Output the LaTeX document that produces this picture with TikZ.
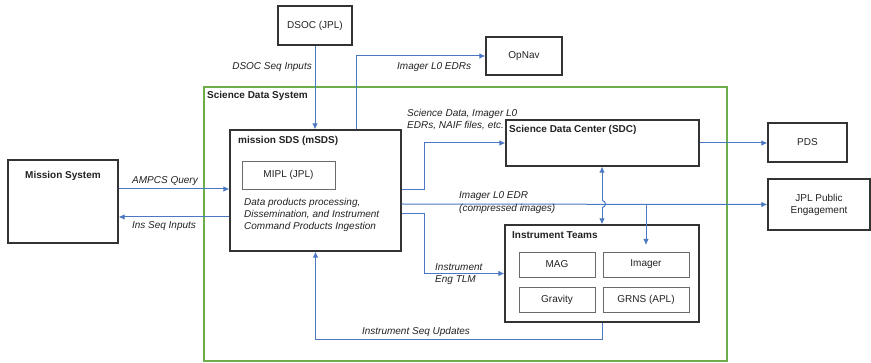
\documentclass[tikz,border=0pt]{standalone}
\usepackage{fontspec}
\setmainfont{Liberation Sans}
\usetikzlibrary{arrows.meta}
\definecolor{flowblue}{HTML}{4A78C2}
\definecolor{sdsgreen}{HTML}{6DAE4B}
\definecolor{boxline}{HTML}{333333}
\definecolor{inline}{HTML}{6A6A6A}
\definecolor{txt}{HTML}{222222}
\begin{document}
\begin{tikzpicture}[x=1pt,y=-1pt,
  font=\fontsize{10}{12}\selectfont, text=txt,
  bigbox/.style={draw=boxline, line width=1.2pt, inner sep=0pt},
  smallbox/.style={draw=inline, line width=0.8pt, inner sep=0pt},
  title/.style={font=\fontsize{10}{12}\selectfont\bfseries, anchor=west, inner sep=0pt},
  lbl/.style={font=\fontsize{10}{11.8}\selectfont\itshape, inner sep=0pt},
  arr/.style={draw=flowblue, line width=1pt, -{Latex[length=6pt,width=5.5pt]}},
  ln/.style={draw=flowblue, line width=1pt}]
\useasboundingbox (0,0) rectangle (871,363);
\fill[white] (0,0) rectangle (871,363);

% Science Data System frame
\node[draw=sdsgreen, line width=1.3pt, minimum width=523pt, minimum height=274pt, inner sep=0pt] (sds) at (465.5,224) {};
\node[title] (sdst) at (207,96) {Science Data System};

% boxes
\node[bigbox, minimum width=74pt, minimum height=39pt] (dsoc) at (315,25.5) {DSOC (JPL)};
\node[bigbox, minimum width=76pt, minimum height=38pt] (opnav) at (524,56) {OpNav};
\node[bigbox, minimum width=110pt, minimum height=83pt] (mission) at (63,201.5) {};
\node[font=\fontsize{10}{12}\selectfont\bfseries, inner sep=0pt] (missiont) at (63,176) {Mission System};
\node[bigbox, minimum width=171pt, minimum height=121pt] (msds) at (315.5,190.5) {};
\node[title] (msdst) at (238,141) {mission SDS (mSDS)};
\node[smallbox, minimum width=93pt, minimum height=28pt] (mipl) at (288.5,175) {MIPL (JPL)};
\node[lbl, anchor=north west, align=left] (msdsd) at (244,198.5) {Data products processing,\\Dissemination, and Instrument\\Command Products Ingestion};
\node[bigbox, minimum width=193pt, minimum height=46pt] (sdc) at (602.5,143) {};
\node[title] (sdct) at (509,130) {Science Data Center (SDC)};
\node[bigbox, minimum width=79pt, minimum height=39pt] (pds) at (807.5,142.5) {PDS};
\node[bigbox, minimum width=102pt, minimum height=51pt, align=center] (jpl) at (819,204.5) {JPL Public\\Engagement};
\node[bigbox, minimum width=194pt, minimum height=97pt] (teams) at (602,273.5) {};
\node[title] (teamst) at (512,235) {Instrument Teams};
\node[smallbox, minimum width=76pt, minimum height=25pt] (mag) at (557,264.5) {MAG};
\node[smallbox, minimum width=86pt, minimum height=25pt] (imager) at (646,264.5) {Imager};
\node[smallbox, minimum width=76pt, minimum height=25pt] (gravity) at (557,299.5) {Gravity};
\node[smallbox, minimum width=86pt, minimum height=25pt] (grns) at (646,299.5) {GRNS (APL)};

% helper coordinates
\coordinate (opx) at (356,0);
\coordinate (ampy) at (0,189);
\coordinate (insy) at (0,217);
\coordinate (scik) at (424,190);
\coordinate (edry) at (0,204);
\coordinate (tlmk) at (424,214);
\coordinate (brtop) at (646,204);
\coordinate (brend) at (646,245);
\coordinate (hopa) at (602,200.5);
\coordinate (hopb) at (602,207.5);

% connectors
\draw[arr] (dsoc.south) -- (dsoc.south |- msds.north);
\draw[arr] (msds.north -| opx) |- (opnav.west);
\draw[arr] (mission.east |- ampy) -- (msds.west |- ampy);
\draw[arr] (msds.west |- insy) -- (mission.east |- insy);
\draw[arr] (msds.east |- scik) -- (scik) |- (sdc.west);
\draw[arr] (msds.east |- edry) -- (jpl.west);
\draw[arr] (brtop) -- (brend);
\draw[arr] (hopa) -- (sdc.south -| hopa);
\draw[ln] (hopa) arc[start angle=-90, end angle=90, radius=3.5];
\draw[arr] (hopb) -- (teams.north -| hopb);
\draw[arr] (msds.east |- tlmk) -- (tlmk) |- (teams.west);
\draw[arr] (teams.south) -- ++(0,17) -| (msds.south);
\draw[arr] (sdc.east) -- (pds.west |- sdc.east);

% labels
\node[lbl, anchor=east] (l1) at (312,67) {DSOC Seq Inputs};
\node[lbl, anchor=west] (l2) at (397,67) {Imager L0 EDRs};
\node[lbl, anchor=north west, align=left] (l3) at (407,109.5) {Science Data, Imager L0\\EDRs, NAIF files, etc.};
\node[lbl] (l4) at (165,181) {AMPCS Query};
\node[lbl] (l5) at (164,226.5) {Ins Seq Inputs};
\node[lbl, font=\fontsize{10}{13}\selectfont\itshape, anchor=west, align=left] (l6) at (459,203) {Imager L0 EDR\\(compressed images)};
\node[lbl, font=\fontsize{10}{12.5}\selectfont\itshape, anchor=west, align=left] (l7) at (435,274) {Instrument\\Eng TLM};
\node[lbl] (l8) at (416,332) {Instrument Seq Updates};
\end{tikzpicture}
\end{document}
